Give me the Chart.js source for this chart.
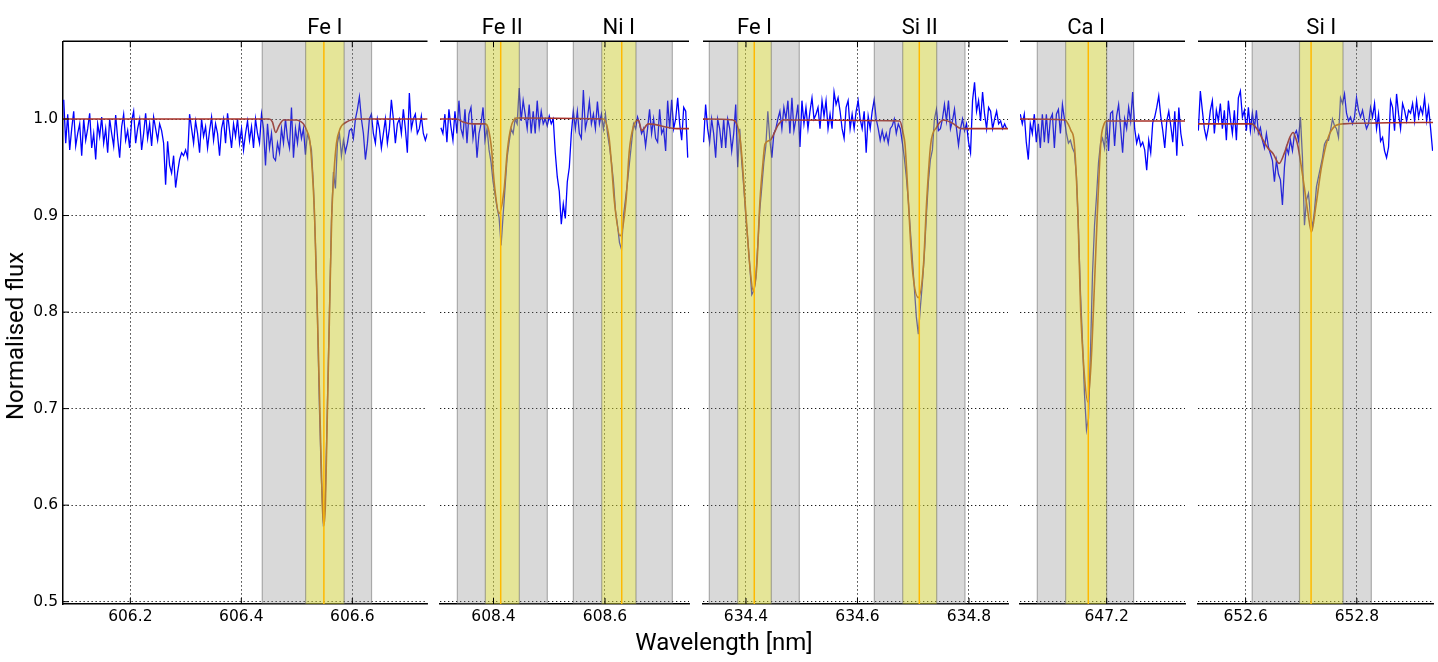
<!DOCTYPE html>
<html>
<head>
<meta charset="utf-8">
<script src="https://cdn.jsdelivr.net/npm/chart.js@4.4.1/dist/chart.umd.min.js"></script>
<style>
    html, body { margin: 0; padding: 0; background: #fff; }
    #fig { position: relative; width: 1438px; height: 662px; overflow: hidden; }
    #fig canvas { position: absolute; top: 0; }
    .lab { position: absolute; font-family: Roboto, sans-serif; font-size: 24px; line-height: 24px; white-space: nowrap; color: #000; }
    #xlab { left: 724px; top: 630px; transform: translateX(-50%); }
    #ylab { left: 15px; top: 336px; transform: translate(-50%, -50%) rotate(-90deg); }
</style>
</head>
<body>
<div id="fig">
    <canvas id="p1" width="430" height="662" style="left:0px"></canvas>
    <canvas id="p2" width="255" height="662" style="left:437px"></canvas>
    <canvas id="p3" width="311" height="662" style="left:700px"></canvas>
    <canvas id="p4" width="171" height="662" style="left:1017px"></canvas>
    <canvas id="p5" width="241" height="662" style="left:1195px"></canvas>
    <div class="lab" id="xlab">Wavelength [nm]</div>
    <div class="lab" id="ylab">Normalised flux</div>
</div>
<script>
// observed spectra: flux x 1000, sampled every waveStep nm from pNStart
var waveStep = 0.0036;
var yTicks = [0.5, 0.6, 0.7, 0.8, 0.9, 1.0];

// PANEL 1: Fe I 606.55
var p1Start = 606.080;
var p1Ticks = [606.2, 606.4, 606.6];
var p1Flux = [
    1020, 975, 1005, 968, 990, 1008, 972, 985, 995, 962,
    1000, 978, 990, 1006, 970, 985, 958, 995, 982, 1002,
    975, 990, 965, 1000, 985, 972, 1004, 980, 960, 992,
    1005, 978, 988, 970, 998, 1008, 975, 990, 1000, 968,
    985, 1006, 980, 995, 972, 1002, 990, 978, 995, 988,
    975, 932, 977, 952, 944, 962, 929, 945, 958, 965, 962, 968, 960,
    1005, 990, 975, 998, 985, 965, 1000, 982, 992, 970,
    988, 1002, 978, 995, 985, 962, 990, 1000, 975, 1006,
    988, 970, 995, 982, 1000, 975, 990, 968, 985, 998,
    978, 992, 970, 1000, 985, 975, 1005, 990,
    952, 995, 970, 985, 960, 957, 975, 965, 990, 975, 1000, 980, 970, 1012, 960, 990, 975, 995, 980, 990, 963, 985,
    978, 968, 930, 870, 795, 700, 625, 578, 615, 705, 800, 895, 945, 928, 975, 985, 962, 978,
    966, 975, 988, 990, 980, 1000, 1010, 1023, 1000, 985,
    958, 975, 1000, 1005, 985, 975, 1000, 990, 970, 985,
    1000, 975, 990, 1020, 1000, 975, 995, 1000, 985, 1010,
    990, 965, 1027, 990, 1000, 1005, 985, 990, 1003, 985,
    978, 985
];
var p1ModelWave = [606.079, 606.450, 606.456, 606.462, 606.468, 606.476, 606.500, 606.508, 606.512, 606.518, 606.524, 606.528, 606.532, 606.537, 606.5415, 606.546, 606.5487, 606.5515, 606.5552, 606.559, 606.563, 606.567, 606.5715, 606.578, 606.590, 606.610, 606.736];
var p1ModelFlux = [1.000, 1.000, 0.997, 0.986, 0.993, 0.999, 0.999, 0.997, 0.995, 0.988, 0.975, 0.945, 0.900, 0.800, 0.700, 0.600, 0.579, 0.600, 0.700, 0.800, 0.900, 0.945, 0.975, 0.990, 0.997, 1.000, 1.000];
var p1Names = ["Fe I"];
var p1Gray = [[606.4377, 606.6347]];
var p1Yellow = [[606.5159, 606.5853]];
var p1Centre = [606.5488];

// PANEL 2: Fe II 608.41, Ni I 608.63
var p2Start = 608.3056;
var p2Ticks = [608.4, 608.6];
var p2Flux = [
    991, 985, 1005, 976, 1010, 992, 978, 1008, 985,
    1019, 990, 982, 1010, 975, 1005, 1012, 980, 995, 960, 985, 995, 1012, 978,
    990, 968, 955, 935, 922, 908, 898, 869, 900, 930, 960, 976, 990, 985, 1000, 995, 1032, 998, 1019,
    1005, 990, 1015, 985, 1008, 985, 1019, 992, 1008, 995, 1000, 993, 1003, 995, 1000,
    965, 940, 925, 891, 912, 897, 935, 950, 985, 1008,
    990, 1008, 985, 980, 1030, 990, 1000, 1018, 995, 1005, 990, 1018, 995, 1005, 990,
    1005, 985, 972, 955, 935, 905, 890, 872, 865, 900, 917, 935, 955, 975, 995, 990, 1002, 995,
    985, 990, 972, 990, 1010, 985, 1000, 980, 976, 1010, 985, 990, 967, 1019, 990, 1020, 990, 1000, 1022, 995, 978, 1012, 1008, 960
];
var p2ModelWave = [608.304, 608.334, 608.3453, 608.3632, 608.3848, 608.3907, 608.3968, 608.3996, 608.4027, 608.4099, 608.4188, 608.4248, 608.4314, 608.4416, 608.597, 608.6072, 608.6121, 608.6167, 608.627, 608.6377, 608.6436, 608.6508, 608.6598, 608.6659, 608.6777, 608.7287, 608.751];
var p2ModelFlux = [1.000, 1.000, 0.997, 0.995, 0.995, 0.990, 0.967, 0.945, 0.926, 0.902, 0.926, 0.967, 0.9915, 1.001, 1.000, 0.981, 0.950, 0.9155, 0.879, 0.9155, 0.967, 0.992, 0.999, 0.988, 0.995, 0.990, 0.990];
var p2Names = ["Fe II", "Ni I"];
var p2Gray = [[608.3351, 608.4965], [608.5432, 608.7208]];
var p2Yellow = [[608.3853, 608.4463], [608.5941, 608.6556]];
var p2Centre = [608.4129, 608.6300];

// PANEL 3: Fe I 634.41, Si II 634.71
var p3Start = 634.324;
var p3Ticks = [634.4, 634.6, 634.8];
var p3Flux = [
    976, 1015, 990, 976, 1000, 985, 960, 1000, 990, 970, 1000, 970, 1000, 990, 967, 985, 1015, 950, 990,
    955, 930, 900, 875, 848, 818, 822, 835, 870, 906, 930, 955, 972, 1008, 978, 960, 985, 990,
    1000, 1008, 990, 1012, 1000, 1019, 985, 1022, 988, 1000,
    1015, 971, 1019, 995, 1012, 990, 1008, 1022, 1000, 1005,
    1012, 990, 1019, 1003, 1019, 990, 1005, 990, 1028, 1015,
    1022, 1008, 990, 980, 1012, 1019, 990, 1005, 990, 1008,
    1019, 1000, 990, 1008, 965, 1003, 990, 1008, 1020, 1000,
    990, 978, 988, 978, 985, 975, 990, 993, 1000, 985,
    995, 990,
    976, 960, 940, 915, 885, 855, 825, 795, 777, 805,
    830, 860, 900, 935, 958, 968, 1000, 1010, 988, 990,
    1000, 1015, 998, 1019, 990, 998, 1010, 990, 973, 990,
    1000, 988, 995, 976, 965, 1019, 1038, 1008, 1019, 998,
    1028, 1005, 990, 1012, 1008, 990, 1000, 1008, 995, 998,
    990, 995, 990
];
var p3ModelWave = [634.3229, 634.3767, 634.388, 634.3928, 634.3982, 634.4072, 634.4131, 634.4192, 634.4251, 634.4305, 634.4341, 634.4431, 634.4579, 634.4669, 634.676, 634.682, 634.6852, 634.6912, 634.6983, 634.7091, 634.7181, 634.7242, 634.7314, 634.7421, 634.754, 634.7696, 634.787, 634.871];
var p3ModelFlux = [1.000, 0.999, 0.985, 0.960, 0.9155, 0.846, 0.822, 0.846, 0.9155, 0.955, 0.974, 0.978, 0.994, 0.999, 0.998, 0.985, 0.974, 0.9155, 0.846, 0.815, 0.846, 0.9155, 0.974, 0.9915, 0.999, 0.996, 0.990, 0.990];
var p3Names = ["Fe I", "Si II"];
var p3Gray = [[634.3342, 634.4956], [634.6302, 634.7929]];
var p3Yellow = [[634.3851, 634.4454], [634.6811, 634.7421]];
var p3Centre = [634.4149, 634.7109];

// PANEL 4: Ca I 647.17
var p4Start = 647.045;
var p4Ticks = [647.2];
var p4Flux = [
    1005, 995, 1005, 976, 958, 995, 985, 1005, 976, 995, 970, 1005, 976, 1005, 975, 1000, 1005, 970, 1005, 1010, 985, 1015,
    1000, 985, 975, 978, 970, 965, 940, 885, 820, 770, 715, 678, 690, 760, 840, 890, 920, 955, 975, 980, 970, 999, 967, 1006,
    1008, 972, 1003, 1015, 990, 965, 1000, 990, 1012, 998,
    1028, 990, 975, 983, 972, 976, 968, 947, 978, 965,
    996, 1002, 1012, 1024, 1003, 988, 970, 998, 1008, 993,
    976, 1008, 962, 1012, 985, 972
];
var p4ModelWave = [647.044, 647.1252, 647.1324, 647.1359, 647.1413, 647.1485, 647.1534, 647.1593, 647.1659, 647.1718, 647.1761, 647.1831, 647.1898, 647.1943, 647.200, 647.341];
var p4ModelFlux = [1.000, 0.999, 0.993, 0.988, 0.978, 0.900, 0.800, 0.740, 0.707, 0.745, 0.800, 0.900, 0.978, 0.993, 0.998, 0.998];
var p4Names = ["Ca I"];
var p4Gray = [[647.0755, 647.2483]];
var p4Yellow = [[647.1264, 647.2000]];
var p4Centre = [647.1670];

// PANEL 5: Si I 652.72
var p5Start = 652.515;
var p5Ticks = [652.6, 652.8];
var p5Flux = [
    988, 1029, 1009, 990, 980, 991, 1009, 1019, 985, 1009,
    998, 1016, 990, 1009, 978, 1019, 1000, 985, 1009, 978,
    1022, 1029, 1002, 1009, 988, 1012, 988, 1006, 990, 1009,
    985, 991, 978, 970, 985, 971, 964, 957, 935, 957,
    943, 937, 911, 950, 971, 964, 978, 967, 984, 988,
    978, 1002, 960, 890, 916, 923, 900, 888, 905, 930,
    940, 950, 960, 974, 978, 978, 988, 1000, 993, 990,
    981, 1022, 1016, 1026, 1006, 998, 1002, 995, 1002, 1022,
    1009, 1002, 1009, 998, 990, 995, 1012, 1002, 1016, 990,
    1005, 977, 981, 967, 960, 971, 1019, 1012, 988, 1026,
    1005, 990, 1016, 1009, 998, 1009, 1006, 1016, 998, 1019,
    1002, 1012, 1005, 1022, 998, 1012, 990, 967
];
var p5ModelWave = [652.5144, 652.6108, 652.6203, 652.6316, 652.640, 652.6495, 652.6603, 652.6705, 652.6795, 652.6854, 652.6902, 652.6944, 652.7046, 652.7123, 652.7184, 652.7261, 652.7363, 652.7512, 652.7751, 652.937];
var p5ModelFlux = [0.995, 0.995, 0.990, 0.978, 0.970, 0.964, 0.954, 0.966, 0.981, 0.986, 0.980, 0.971, 0.933, 0.902, 0.883, 0.909, 0.950, 0.985, 0.995, 0.9964];
var p5Names = ["Si I"];
var p5Gray = [[652.6118, 652.8260]];
var p5Yellow = [[652.6969, 652.7751]];
var p5Centre = [652.7177];

Chart.defaults.font.family = "'DejaVu Sans', sans-serif";
Chart.defaults.font.size = 15.5;
Chart.defaults.color = '#000';

var panels = [
    { id: 'p1', padL: 0, padR: 2.5, yAxis: true, xMin: 606.0787, xMax: 606.7355, ticks: p1Ticks, start: p1Start, flux: p1Flux, mWave: p1ModelWave, mFlux: p1ModelFlux, names: p1Names, gray: p1Gray, yellow: p1Yellow, centre: p1Centre },
    { id: 'p2', padL: 3, padR: 3, yAxis: false, xMin: 608.3040, xMax: 608.7507, ticks: p2Ticks, start: p2Start, flux: p2Flux, mWave: p2ModelWave, mFlux: p2ModelFlux, names: p2Names, gray: p2Gray, yellow: p2Yellow, centre: p2Centre },
    { id: 'p3', padL: 3, padR: 3, yAxis: false, xMin: 634.3229, xMax: 634.8700, ticks: p3Ticks, start: p3Start, flux: p3Flux, mWave: p3ModelWave, mFlux: p3ModelFlux, names: p3Names, gray: p3Gray, yellow: p3Yellow, centre: p3Centre },
    { id: 'p4', padL: 3, padR: 3, yAxis: false, xMin: 647.0445, xMax: 647.3405, ticks: p4Ticks, start: p4Start, flux: p4Flux, mWave: p4ModelWave, mFlux: p4ModelFlux, names: p4Names, gray: p4Gray, yellow: p4Yellow, centre: p4Centre },
    { id: 'p5', padL: 3, padR: 3, yAxis: false, xMin: 652.5144, xMax: 652.9369, ticks: p5Ticks, start: p5Start, flux: p5Flux, mWave: p5ModelWave, mFlux: p5ModelFlux, names: p5Names, gray: p5Gray, yellow: p5Yellow, centre: p5Centre }
];

function drawBand(ctx, x, a, b, fill) {
    var x0 = x.getPixelForValue(b[0]);
    var x1 = x.getPixelForValue(b[1]);
    ctx.fillStyle = fill;
    ctx.fillRect(x0, a.top, x1 - x0, a.bottom - a.top);
    ctx.strokeStyle = 'rgba(90,90,90,0.45)';
    ctx.lineWidth = 1.2;
    ctx.beginPath();
    ctx.moveTo(x0, a.top); ctx.lineTo(x0, a.bottom);
    ctx.moveTo(x1, a.top); ctx.lineTo(x1, a.bottom);
    ctx.stroke();
}

// bands, line centres, top spine, inward ticks and line names
function makeOverlay(p) {
    return {
        id: 'overlay',
        afterDatasetsDraw: function (chart) {
            var ctx = chart.ctx, a = chart.chartArea, x = chart.scales.x;
            ctx.save();
            ctx.beginPath();
            ctx.rect(a.left, a.top, a.right - a.left, a.bottom - a.top);
            ctx.clip();
            p.gray.forEach(function (b) { drawBand(ctx, x, a, b, 'rgba(128,128,128,0.3)'); });
            p.yellow.forEach(function (b) { drawBand(ctx, x, a, b, 'rgba(255,255,0,0.3)'); });
            ctx.strokeStyle = 'rgb(255,185,0)';
            ctx.lineWidth = 1.5;
            ctx.beginPath();
            p.centre.forEach(function (c) {
                var px = x.getPixelForValue(c);
                ctx.moveTo(px, a.top); ctx.lineTo(px, a.bottom);
            });
            ctx.stroke();
            ctx.restore();
        },
        afterDraw: function (chart) {
            var ctx = chart.ctx, a = chart.chartArea, x = chart.scales.x, y = chart.scales.y;
            ctx.save();
            ctx.strokeStyle = '#000';
            ctx.lineWidth = 1.5;
            ctx.beginPath();
            ctx.moveTo(a.left, a.top); ctx.lineTo(a.right, a.top);
            ctx.stroke();
            ctx.lineWidth = 1;
            ctx.beginPath();
            x.ticks.forEach(function (t) {
                var px = x.getPixelForValue(t.value);
                ctx.moveTo(px, a.top); ctx.lineTo(px, a.top + 6);
                ctx.moveTo(px, a.bottom); ctx.lineTo(px, a.bottom - 6);
            });
            if (p.yAxis) {
                y.ticks.forEach(function (t) {
                    var py = y.getPixelForValue(t.value);
                    ctx.moveTo(a.left, py); ctx.lineTo(a.left + 6, py);
                });
            }
            ctx.stroke();
            ctx.fillStyle = '#000';
            ctx.font = '22px Roboto';
            ctx.textAlign = 'center';
            ctx.textBaseline = 'alphabetic';
            p.names.forEach(function (n, k) {
                var cx = x.getPixelForValue((p.yellow[k][0] + p.yellow[k][1]) / 2);
                ctx.fillText(n, cx, 34);
            });
            ctx.restore();
        }
    };
}

panels.forEach(function (p) {
    var obs = p.flux.map(function (f, i) { return { x: p.start + i * waveStep, y: f / 1000 }; });
    var model = p.mWave.map(function (w, i) { return { x: w, y: p.mFlux[i] }; });
    new Chart(document.getElementById(p.id), {
        type: 'line',
        data: {
            datasets: [{
                data: model,
                borderColor: '#a8322a',
                borderWidth: 1.6,
                pointRadius: 0,
                cubicInterpolationMode: 'monotone',
                order: 0
            }, {
                data: obs,
                borderColor: '#0000ff',
                borderWidth: 1.3,
                pointRadius: 0,
                tension: 0,
                order: 1
            }]
        },
        options: {
            responsive: false,
            animation: false,
            events: [],
            layout: { padding: { left: p.padL, right: p.padR, top: 41.3, bottom: 0 } },
            plugins: {
                legend: { display: false },
                tooltip: { enabled: false }
            },
            scales: {
                x: {
                    type: 'linear',
                    min: p.xMin,
                    max: p.xMax,
                    afterBuildTicks: function (s) { s.ticks = p.ticks.map(function (v) { return { value: v }; }); },
                    afterFit: function (s) { s.height = 58; },
                    ticks: { padding: 4, maxRotation: 0, autoSkip: false, callback: function (v) { return v.toFixed(1); } },
                    grid: { color: '#000', lineWidth: 0.9, drawTicks: false },
                    border: { color: '#000', width: 1.5, dash: [1.3, 2.7] }
                },
                y: {
                    min: 0.4976,
                    max: 1.0805,
                    afterBuildTicks: function (s) { s.ticks = yTicks.map(function (v) { return { value: v }; }); },
                    afterFit: function (s) { s.width = p.yAxis ? 63 : 0; },
                    ticks: { display: p.yAxis, padding: 5, callback: function (v) { return v.toFixed(1); } },
                    grid: { color: '#000', lineWidth: 0.9, drawTicks: false },
                    border: { display: p.yAxis, color: '#000', width: 1.5, dash: [1.3, 2.7] }
                }
            }
        },
        plugins: [makeOverlay(p)]
    });
});
</script>
</body>
</html>
